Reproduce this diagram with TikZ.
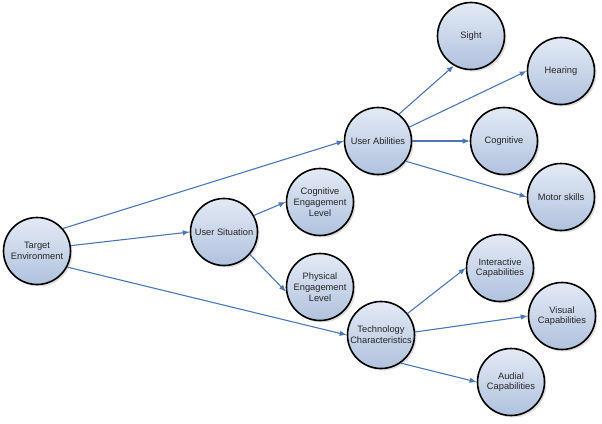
\documentclass[tikz,border=0pt]{standalone}
\usepackage{fontspec}
\setmainfont{Liberation Sans}
\usetikzlibrary{arrows.meta,shadows}
\definecolor{edgeblue}{HTML}{4A76B8}
\definecolor{fillA}{HTML}{E3EAF5}
\definecolor{fillB}{HTML}{B0C2DE}
\tikzset{
  bubble/.style={circle, draw=black, line width=1.6pt, minimum size=67pt, inner sep=0pt,
    align=center, top color=fillA, bottom color=fillB,
    font=\fontsize{9.3}{10.8}\selectfont, text=black!85,
    drop shadow={shadow xshift=2pt, shadow yshift=-2pt, opacity=0.25, fill=gray}},
  link/.style={draw=edgeblue, line width=1.1pt, -{Latex[length=7pt,width=5.5pt]}}
}
\begin{document}
\begin{tikzpicture}[x=1pt,y=-1pt]
\useasboundingbox (0,0) rectangle (602,423);
\node[bubble] (te) at (37,251) {Target\\Environment};
\node[bubble] (us) at (224,232) {User Situation};
\node[bubble] (ua) at (378,141) {User Abilities};
\node[bubble] (tc) at (381,335) {Technology\\Characteristics};
\node[bubble] (cel) at (320,202) {Cognitive\\Engagement\\Level};
\node[bubble] (pel) at (320,287) {Physical\\Engagement\\Level};
\node[bubble] (si) at (471,36) {Sight};
\node[bubble] (he) at (561,71) {Hearing};
\node[bubble] (co) at (504,141) {Cognitive};
\node[bubble] (ms) at (561,197) {Motor skills};
\node[bubble] (ic) at (500,268) {Interactive\\Capabilities};
\node[bubble] (vc) at (562,316) {Visual\\Capabilities};
\node[bubble] (ac) at (511,382) {Audial\\Capabilities};
\draw[link] (te.41) -- (ua.west);
\draw[link] (te.9) -- (us.west);
\draw[link] (te.-28) -- (tc.west);
\draw[link] (us.29) -- (cel.west);
\draw[link] (us.-41) -- (pel.188);
\draw[link] (ua.52) -- (si.240);
\draw[link] (ua.24) -- (he.west);
\draw[link] (ua.0) -- (co.west);
\draw[link] (ua.-36) -- (ms.west);
\draw[link] (tc.39) -- (ic.west);
\draw[link] (tc.5) -- (vc.west);
\draw[link] (tc.-55) -- (ac.west);
\end{tikzpicture}
\end{document}
